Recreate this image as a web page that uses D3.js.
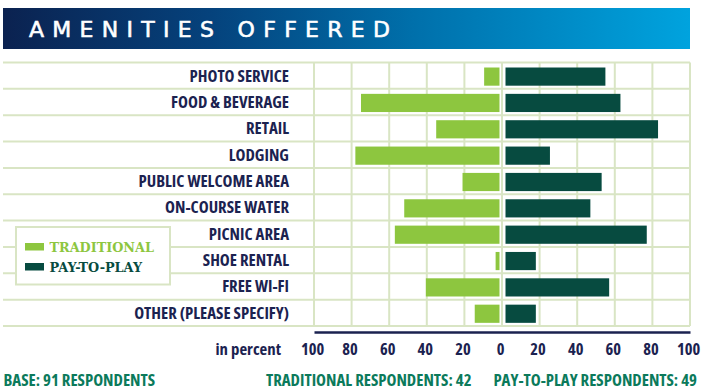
<!DOCTYPE html>
<html><head><meta charset="utf-8">
<script src="https://cdn.jsdelivr.net/npm/d3@7"></script>
<style>
html,body{margin:0;padding:0;background:#fff;}
svg{display:block;}
.cond{font-family:"Open Sans","Liberation Sans Narrow","DejaVu Sans Condensed",sans-serif;font-stretch:75%;font-weight:700;}
</style></head>
<body>
<script>
const categories = ["PHOTO SERVICE","FOOD & BEVERAGE","RETAIL","LODGING","PUBLIC WELCOME AREA","ON-COURSE WATER","PICNIC AREA","SHOE RENTAL","FREE WI-FI","OTHER (PLEASE SPECIFY)"];
const traditional = [9.5, 75, 35, 78, 21, 52, 57, 3.4, 40.5, 14.5];
const payToPlay = [55, 63, 83, 25.5, 53, 47, 77, 18, 57, 18];
const tickValues = [-100,-80,-60,-40,-20,0,20,40,60,80,100];
const seriesNames = ["TRADITIONAL","PAY-TO-PLAY"];
const title = "AMENITIES OFFERED";
const axisLabel = "in percent";
const footnotes = ["BASE: 91 RESPONDENTS","TRADITIONAL RESPONDENTS: 42","PAY-TO-PLAY RESPONDENTS: 49"];

const W = 702, H = 390;
const C = {light:"#8dc63f", dark:"#074b40", grid:"#d9e5c4", navy:"#1b2250", teal:"#0b7a5b"};

const svg = d3.select("body").append("svg").attr("width",W).attr("height",H);
const defs = svg.append("defs");
const grad = defs.append("linearGradient").attr("id","bannerGrad").attr("x1","0").attr("x2","1").attr("y1","0").attr("y2","0");
[["0%","#0b2250"],["30%","#05427c"],["60%","#0070ab"],["100%","#00a3de"]].forEach(s=>grad.append("stop").attr("offset",s[0]).attr("stop-color",s[1]));

// banner
svg.append("rect").attr("x",3).attr("y",8).attr("width",687).attr("height",41).attr("fill","url(#bannerGrad)");
svg.append("text").attr("x",29).attr("y",37).attr("fill","#fff")
  .style("font-family","'DejaVu Sans',sans-serif").style("font-size","22px").style("font-weight","400")
  .attr("stroke","#fff").attr("stroke-width",0.6)
  .attr("textLength",361).attr("lengthAdjust","spacing").text(title);

const x = d3.scaleLinear().domain([-100,100]).range([314,690]);
const y = d3.scaleBand().domain(categories).range([62.5,326]).padding(0);
const bw = y.bandwidth();

const g = svg.append("g");
// horizontal grid lines
const hLines = categories.map(c=>y(c)).concat([y(categories[categories.length-1])+bw]);
g.selectAll("line.h").data(hLines).join("line")
  .attr("x1",3).attr("x2",x(100)).attr("y1",d=>d).attr("y2",d=>d)
  .attr("stroke",C.grid).attr("stroke-width",2);
// vertical grid lines
g.selectAll("line.v").data(tickValues).join("line")
  .attr("x1",d=>x(d)).attr("x2",d=>x(d)).attr("y1",62.5).attr("y2",326)
  .attr("stroke",C.grid).attr("stroke-width",2);

const gap = 2.5;
// bars
g.selectAll("rect.t").data(categories).join("rect")
  .attr("x",(c,i)=>x(-traditional[i]))
  .attr("width",(c,i)=>Math.max(0,x(0)-gap-x(-traditional[i])))
  .attr("y",c=>y(c)+bw*0.19).attr("height",bw*0.69)
  .attr("fill",C.light);
g.selectAll("rect.p").data(categories).join("rect")
  .attr("x",x(0)+gap+1)
  .attr("width",(c,i)=>Math.max(0,x(payToPlay[i])-x(0)-gap-1))
  .attr("y",c=>y(c)+bw*0.19).attr("height",bw*0.69)
  .attr("fill",C.dark);

// row labels
g.selectAll("text.lab").data(categories).join("text")
  .attr("class","cond").attr("x",289).attr("y",c=>y(c)+bw/2+6)
  .attr("text-anchor","end").attr("fill",C.navy).style("font-size","16.8px").text(c=>c);

// legend
const lg = svg.append("g");
lg.append("rect").attr("x",16).attr("y",227).attr("width",154).attr("height",57.5)
  .attr("fill","#fff").attr("stroke",C.grid).attr("stroke-width",2);
seriesNames.forEach((n,i)=>{
  const col = i===0?C.light:C.dark;
  lg.append("rect").attr("x",25).attr("y",243+i*20).attr("width",19).attr("height",7.5).attr("fill",col);
  lg.append("text").attr("x",49.5).attr("y",251.5+i*20).attr("fill",col)
    .style("font-family","'DejaVu Serif',serif").style("font-weight","700").style("font-size","12.8px")
    .text(n);
});

// axis
const axis = d3.axisBottom(x).tickValues(tickValues).tickSize(0).tickPadding(0).tickFormat(d=>Math.abs(d));
const ag = svg.append("g").attr("transform","translate(0,332)").call(axis);
ag.select(".domain").attr("stroke",C.navy).attr("stroke-width",2.5);
ag.selectAll(".tick text").attr("class","cond").attr("y",22.5).attr("dy",0).attr("dx",-2)
  .attr("fill",C.navy).style("font-size","16.5px");
svg.append("text").attr("class","cond").attr("x",281).attr("y",354.5).attr("text-anchor","end")
  .attr("fill",C.navy).style("font-size","16.8px").text(axisLabel);

// footnotes
const fpos = [[3.5,"start"],[266,"start"],[697,"end"]];
footnotes.forEach((t,i)=>{
  svg.append("text").attr("class","cond").attr("x",fpos[i][0]).attr("y",385.5)
    .attr("text-anchor",fpos[i][1])
    .attr("fill",C.teal).style("font-size","16.8px").text(t);
});
</script>
</body></html>
